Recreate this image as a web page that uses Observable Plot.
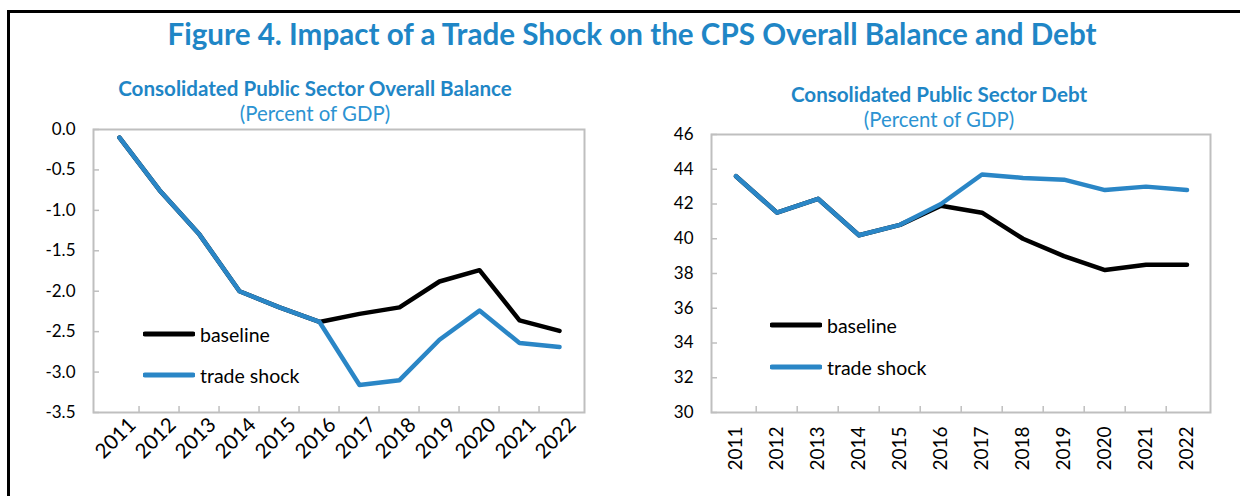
<!DOCTYPE html>
<html><head><meta charset="utf-8">
<script src="https://cdn.jsdelivr.net/npm/d3@7"></script>
<script src="https://cdn.jsdelivr.net/npm/@observablehq/plot@0.6"></script>
<style>
html,body{margin:0;padding:0;background:#fff;}
#wrap{position:relative;width:1240px;height:496px;overflow:hidden;font-family:Lato,"Open Sans",sans-serif;}
.border{position:absolute;left:7px;top:10px;width:1300px;height:600px;border-left:3px solid #000;border-top:3px solid #000;}
.title{position:absolute;left:0;width:1264px;top:13px;text-align:center;font-weight:700;font-size:29.6px;color:#1F86C6;line-height:42px;white-space:nowrap;}
.sub{position:absolute;text-align:center;color:#1F86C6;white-space:nowrap;}
.sub .b{font-weight:700;font-size:20.6px;line-height:25px;}
.sub .n{font-weight:400;font-size:20.4px;line-height:25px;color:#2C93D2;}
.chart{position:absolute;}
.chart svg text{font-family:Lato,"Open Sans",sans-serif;fill:#000;}
.legend{position:absolute;font-size:19.5px;color:#000;}
.legend .row{display:flex;align-items:center;height:24px;position:absolute;left:0;white-space:nowrap;}
.legend svg{margin-right:5px;}
</style></head>
<body>
<div id="wrap">
  <div class="border"></div>
  <div class="title">Figure 4. Impact of a Trade Shock on the CPS Overall Balance and Debt</div>
  <div class="sub" style="left:115px;width:400px;top:76px;"><div class="b">Consolidated Public Sector Overall Balance</div><div class="n">(Percent of GDP)</div></div>
  <div class="sub" style="left:739px;width:400px;top:82px;"><div class="b">Consolidated Public Sector Debt</div><div class="n">(Percent of GDP)</div></div>
  <div id="left" class="chart" style="left:0;top:60px;"></div>
  <div id="right" class="chart" style="left:610px;top:60px;"></div>
  <div id="legL" class="legend" style="left:143px;top:322px;"></div>
  <div id="legR" class="legend" style="left:770px;top:313px;"></div>
</div>
<script>
const years = ["2011","2012","2013","2014","2015","2016","2017","2018","2019","2020","2021","2022"];
const balanceBaseline = [-0.10,-0.75,-1.30,-2.00,-2.20,-2.38,-2.28,-2.20,-1.88,-1.74,-2.36,-2.49];
const balanceShock    = [-0.10,-0.75,-1.30,-2.00,-2.20,-2.38,-3.16,-3.10,-2.60,-2.24,-2.64,-2.69];
const debtBaseline = [43.6,41.5,42.3,40.2,40.8,41.9,41.5,40.0,39.0,38.2,38.5,38.5];
const debtShock    = [43.6,41.5,42.3,40.2,40.8,42.0,43.7,43.5,43.4,42.8,43.0,42.8];
const balanceTicks = [0,-0.5,-1,-1.5,-2,-2.5,-3,-3.5];
const debtTicks = [30,32,34,36,38,40,42,44,46];
const seriesNames = ["baseline","trade shock"];
const seriesColors = ["#000000","#2A86C6"];

function rows(vals, name){ return years.map((y,i)=>({year:y, value:vals[i], series:name})); }

function makeChart({width,height,ml,mr,mt,mb,domain,ticks,fmt,base,shock,rotate,padX,dxX,dyX,fsX}){
  const fw = width-ml-mr, fh = height-mt-mb;
  const bw = fw/years.length;
  const data = [...rows(base,seriesNames[0]), ...rows(shock,seriesNames[1])];
  return Plot.plot({
    width, height, marginLeft:ml, marginRight:mr, marginTop:mt, marginBottom:mb,
    style:{background:"transparent", overflow:"visible"},
    x:{type:"band", domain:years, padding:0, axis:null, label:null},
    y:{domain, axis:null, label:null},
    color:{domain:seriesNames, range:seriesColors},
    marks:[
      Plot.ruleX(years.slice(1), {x:d=>d, dx:-bw/2, insetTop:fh-6, stroke:"#BFBFBF", strokeWidth:1.5}),
      Plot.ruleY(ticks, {y:d=>d, insetRight:fw-6, stroke:"#BFBFBF", strokeWidth:1.5}),
      Plot.frame({stroke:"#BFBFBF", strokeWidth:2}),
      Plot.axisY(ticks, {tickSize:0, tickPadding:18, tickFormat:fmt, fontSize:17, label:null}),
      Plot.axisX(years, {tickSize:0, tickRotate:rotate, tickPadding:padX, dx:dxX, dy:dyX, fontSize:fsX, label:null}),
      Plot.line(data, {x:"year", y:"value", z:"series", stroke:"series", strokeWidth:4.5, strokeLinecap:"round", strokeLinejoin:"round"})
    ]
  });
}

document.getElementById("left").append(makeChart({
  width:610, height:436, ml:93, mr:26, mt:69, mb:84,
  domain:[-3.5,0], ticks:balanceTicks, fmt:d=>d.toFixed(1),
  base:balanceBaseline, shock:balanceShock, rotate:-45, padX:9, dxX:13, dyX:0, fsX:20.5
}));
document.getElementById("right").append(makeChart({
  width:630, height:436, ml:101, mr:30, mt:74, mb:84,
  domain:[30,46], ticks:debtTicks, fmt:d=>String(d),
  base:debtBaseline, shock:debtShock, rotate:-90, padX:14, dxX:0, dyX:0, fsX:19
}));

function legend(el, rowGap){
  seriesNames.forEach((name,i)=>{
    const r = document.createElement("div");
    r.className = "row";
    r.style.top = (i*rowGap)+"px";
    r.innerHTML = `<svg width="52" height="8"><line x1="2" y1="4" x2="50" y2="4" stroke="${seriesColors[i]}" stroke-width="5" stroke-linecap="round"/></svg><span>${name}</span>`;
    el.append(r);
  });
}
legend(document.getElementById("legL"), 41);
legend(document.getElementById("legR"), 42);
</script>
</body></html>
